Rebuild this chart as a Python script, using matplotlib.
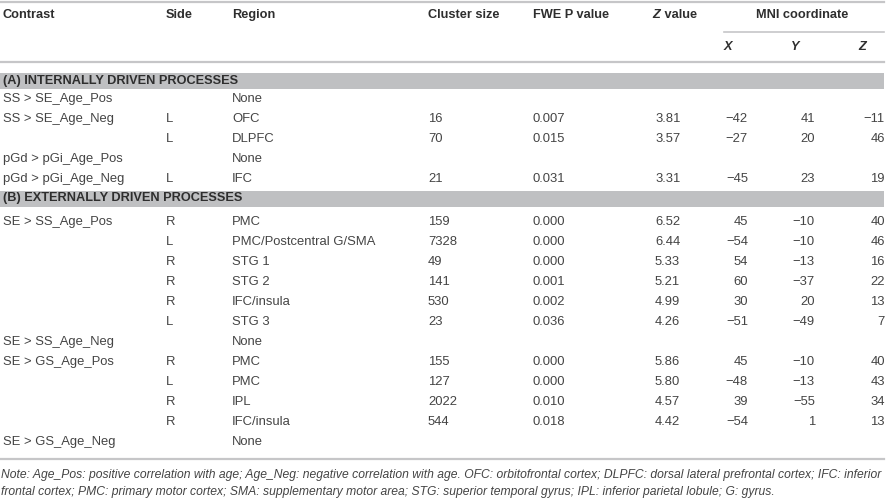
import matplotlib
matplotlib.use("Agg")
import matplotlib.pyplot as plt

# table content
headers = ["Contrast", "Side", "Region", "Cluster size", "FWE P value", "Z value"]
mni_header = "MNI coordinate"
mni_axes = ["X", "Y", "Z"]

section_a = "(A) INTERNALLY DRIVEN PROCESSES"
section_b = "(B) EXTERNALLY DRIVEN PROCESSES"
n_rows_a = 5

contrast = ["SS > SE_Age_Pos", "SS > SE_Age_Neg", "", "pGd > pGi_Age_Pos", "pGd > pGi_Age_Neg",
            "SE > SS_Age_Pos", "", "", "", "", "", "SE > SS_Age_Neg",
            "SE > GS_Age_Pos", "", "", "", "SE > GS_Age_Neg"]
side = ["", "L", "L", "", "L",
        "R", "L", "R", "R", "R", "L", "",
        "R", "L", "R", "R", ""]
region = ["None", "OFC", "DLPFC", "None", "IFC",
          "PMC", "PMC/Postcentral G/SMA", "STG 1", "STG 2", "IFC/insula", "STG 3", "None",
          "PMC", "PMC", "IPL", "IFC/insula", "None"]
cluster = ["", "16", "70", "", "21",
           "159", "7328", "49", "141", "530", "23", "",
           "155", "127", "2022", "544", ""]
p_value = ["", "0.007", "0.015", "", "0.031",
           "0.000", "0.000", "0.000", "0.001", "0.002", "0.036", "",
           "0.000", "0.000", "0.010", "0.018", ""]
z_value = ["", "3.81", "3.57", "", "3.31",
           "6.52", "6.44", "5.33", "5.21", "4.99", "4.26", "",
           "5.86", "5.80", "4.57", "4.42", ""]
mni_x = [None, -42, -27, None, -45,
         45, -54, 54, 60, 30, -51, None,
         45, -48, 39, -54, None]
mni_y = [None, 41, 20, None, 23,
         -10, -10, -13, -37, 20, -49, None,
         -10, -13, -55, 1, None]
mni_z = [None, -11, 46, None, 19,
         40, 46, 16, 22, 13, 7, None,
         40, 43, 34, 13, None]

note_lines = [
    "Note: Age_Pos: positive correlation with age; Age_Neg: negative correlation with age. "
    "OFC: orbitofrontal cortex; DLPFC: dorsal lateral prefrontal cortex; IFC: inferior",
    "frontal cortex; PMC: primary motor cortex; SMA: supplementary motor area; "
    "STG: superior temporal gyrus; IPL: inferior parietal lobule; G: gyrus.",
]

W, H = 887, 501
fig = plt.figure(figsize=(W / 100, H / 100), dpi=100)
ax = fig.add_axes([0, 0, 1, 1])
ax.set_xlim(0, W)
ax.set_ylim(H, 0)
ax.axis("off")

FONT = ["Liberation Sans", "DejaVu Sans"]
body = dict(fontsize=9.4, color="#444444", family=FONT, va="center")
head = dict(fontsize=9.2, color="#2e2e2e", family=FONT, va="center", fontweight="bold")
line_c = "#c6c6c8"
band_c = "#bfc0c2"
right = 884

col_x = [3, 166, 232, 428, 533, 655]
num_right = [748, 815, 885]
axis_left = [724, 791, 858]

# rules
ax.plot([0, right], [2, 2], color=line_c, lw=1.6)
ax.plot([724, right], [32, 32], color=line_c, lw=1.2)
ax.plot([0, right], [62, 62], color=line_c, lw=1.6)
ax.plot([0, right], [459, 459], color=line_c, lw=1.6)

# header
for x, h in zip(col_x, headers):
    if h == "Z value":
        ax.text(x - 3, 15, "Z", fontstyle="italic", **head)
        ax.text(x + 6, 15, " value", **head)
    else:
        ax.text(x, 15, h, **head)
ax.text(802, 15, mni_header, ha="center", **head)
for x, a in zip(axis_left, mni_axes):
    ax.text(x, 47, a, fontstyle="italic", **head)


def fmt(v):
    if v is None:
        return ""
    return ("\u2212" + str(-v)) if v < 0 else str(v)


def draw_row(i, y):
    ax.text(col_x[0], y, contrast[i], **body)
    ax.text(col_x[1], y, side[i], **body)
    ax.text(col_x[2], y, region[i], **body)
    ax.text(col_x[3], y, cluster[i], **body)
    ax.text(col_x[4], y, p_value[i], **body)
    ax.text(col_x[5], y, z_value[i], **body)
    for xr, vals in zip(num_right, (mni_x, mni_y, mni_z)):
        ax.text(xr, y, fmt(vals[i]), ha="right", **body)


# section A
ax.fill_between([0, right], 72.5, 88.5, color=band_c, lw=0)
ax.text(3, 80.5, section_a, **head)
for i in range(n_rows_a):
    draw_row(i, 99 + 20 * i)

# section B
ax.fill_between([0, right], 190.5, 206.5, color=band_c, lw=0)
ax.text(3, 198.5, section_b, **head)
for k, i in enumerate(range(n_rows_a, len(contrast))):
    draw_row(i, 222 + 20 * k)

# note, fitted to the table width
NOTE_FONT = ["Liberation Sans Narrow", "Liberation Sans", "DejaVu Sans"]
t1 = ax.text(1, 475, note_lines[0], fontsize=9, fontstyle="italic", color="#444444",
             family=NOTE_FONT, va="center")
fig.canvas.draw()
w = t1.get_window_extent().width
size = 9 * (right - 2) / w
t1.set_fontsize(size)
ax.text(1, 492, note_lines[1], fontsize=size, fontstyle="italic", color="#444444",
        family=NOTE_FONT, va="center")

fig.savefig("out.png", dpi=100)
